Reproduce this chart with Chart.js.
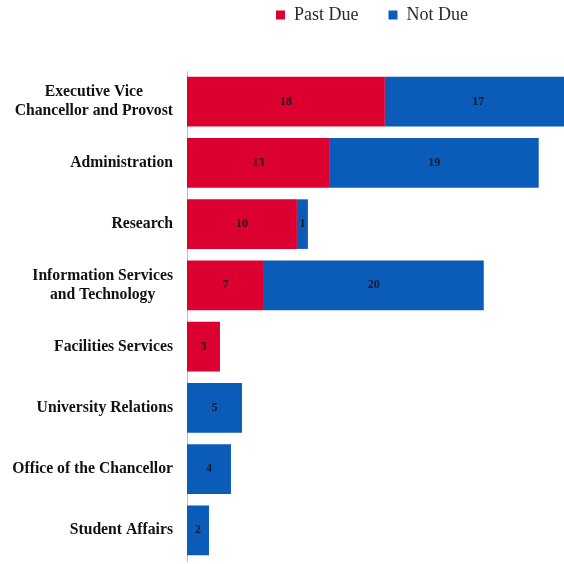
<!DOCTYPE html>
<html>
<head>
<meta charset="utf-8">
<script src="https://cdn.jsdelivr.net/npm/chart.js@4/dist/chart.umd.min.js"></script>
<style>
html,body{margin:0;padding:0;background:#fff;overflow:hidden;}
canvas{display:block;}
</style>
</head>
<body>
<canvas id="c" width="564" height="564" style="width:564px;height:564px"></canvas>
<script>
const categories = [
  ["Executive Vice", "Chancellor and Provost"],
  "Administration",
  "Research",
  ["Information Services", "and Technology"],
  "Facilities Services",
  "University Relations",
  "Office of the Chancellor",
  "Student Affairs"
];
const pastDue = [18, 13, 10, 7, 3, 0, 0, 0];
const notDue  = [17, 19, 1, 20, 0, 5, 4, 2];
const seriesNames = ["Past Due", "Not Due"];

const LABEL_FONT = 'bold 15.7px "Liberation Serif", serif';

const valueLabels = {
  id: 'valueLabels',
  afterDatasetsDraw(chart) {
    const ctx = chart.ctx;
    const a = chart.chartArea;
    ctx.save();
    ctx.beginPath();
    ctx.rect(a.left, a.top, a.right - a.left, a.bottom - a.top);
    ctx.clip();
    ctx.font = 'bold 12px "Liberation Serif", serif';
    ctx.fillStyle = '#1a1a2a';
    ctx.textAlign = 'center';
    ctx.textBaseline = 'middle';
    chart.data.datasets.forEach((ds, di) => {
      const meta = chart.getDatasetMeta(di);
      meta.data.forEach((bar, i) => {
        const v = ds.data[i];
        if (!v) return;
        ctx.fillText(String(v), (bar.x + bar.base) / 2, bar.y);
      });
    });
    ctx.restore();
  }
};

// Category labels: each multi-line label is a centered block, right-aligned to the axis
const categoryLabels = {
  id: 'categoryLabels',
  afterDraw(chart) {
    const ctx = chart.ctx;
    const y = chart.scales.y;
    const rightEdge = y.right - 14;
    const lineH = 18.5;
    ctx.save();
    ctx.font = LABEL_FONT;
    ctx.fillStyle = '#111';
    ctx.textAlign = 'center';
    ctx.textBaseline = 'middle';
    chart.data.labels.forEach((lab, i) => {
      const lines = Array.isArray(lab) ? lab : [lab];
      const maxW = Math.max(...lines.map(l => ctx.measureText(l).width));
      const cx = rightEdge - maxW / 2;
      const cy = y.getPixelForValue(i);
      lines.forEach((l, k) => {
        ctx.fillText(l, cx, cy + (k - (lines.length - 1) / 2) * lineH);
      });
    });
    ctx.restore();
  }
};

new Chart(document.getElementById('c'), {
  type: 'bar',
  data: {
    labels: categories,
    datasets: [
      { label: seriesNames[0], data: pastDue, backgroundColor: '#dc0030', borderWidth: 0 },
      { label: seriesNames[1], data: notDue, backgroundColor: '#0a5cb8', borderWidth: 0 }
    ]
  },
  options: {
    indexAxis: 'y',
    responsive: false,
    animation: false,
    layout: { padding: { top: 0, bottom: 3, left: 0, right: 0 } },
    datasets: { bar: { categoryPercentage: 0.81, barPercentage: 1.0 } },
    plugins: {
      legend: {
        position: 'top',
        labels: {
          font: { family: '"Liberation Serif", serif', size: 18 },
          color: '#2a2a2a',
          boxWidth: 9,
          boxHeight: 9,
          padding: 30
        }
      },
      tooltip: { enabled: false }
    },
    scales: {
      x: { stacked: true, display: false, min: 0, max: 34.3 },
      y: {
        stacked: true,
        grid: { display: false, drawTicks: false },
        border: { display: true, color: '#bdbdbd', width: 1 },
        ticks: { display: false },
        afterFit(s) { s.width = 187; s.paddingTop = 0; s.paddingBottom = 0; }
      }
    }
  },
  plugins: [valueLabels, categoryLabels, {
    id: 'legendSpace',
    afterInit(chart) {
      const lg = chart.legend;
      const origFit = lg.fit;
      lg.fit = function() { origFit.call(this); this.height = 71; };
    },
    afterLayout(chart) {
      const lg = chart.legend;
      lg.top = -24;
      lg.left = 180;
      lg.right = 564;
    }
  }]
});
</script>
</body>
</html>
